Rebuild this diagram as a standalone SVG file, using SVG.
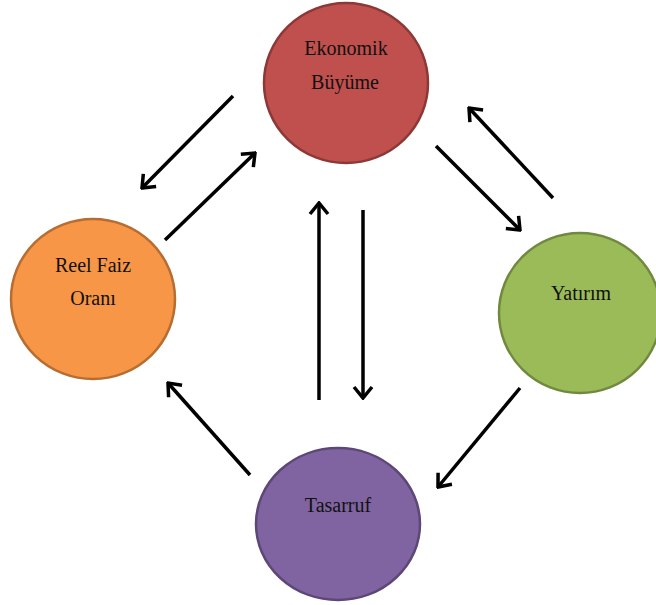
<svg xmlns="http://www.w3.org/2000/svg" width="656" height="605" viewBox="0 0 656 605">
  <style>
    .lbl { font-family: "Liberation Serif", "Times New Roman", serif; font-size: 20px; fill: #111; text-anchor: middle; }
    .arr { stroke: #000; stroke-width: 3.5; fill: none; marker-end: url(#head); }
  </style>
  <defs>
    <marker id="head" markerUnits="userSpaceOnUse" viewBox="-14 -12 16 24" refX="0" refY="0" markerWidth="16" markerHeight="24" orient="auto">
      <path d="M-11,-9 L0,0 L-11,9" fill="none" stroke="#000" stroke-width="3.5" stroke-linejoin="miter" stroke-linecap="butt"/>
    </marker>
  </defs>
  <rect width="656" height="605" fill="#fff"/>
  <g id="connectors">
    <line class="arr" x1="233" y1="96" x2="142" y2="188"/>
    <line class="arr" x1="165" y1="240" x2="255" y2="153"/>
    <line class="arr" x1="436" y1="146" x2="520" y2="230"/>
    <line class="arr" x1="553" y1="198" x2="469" y2="108"/>
    <line class="arr" x1="319" y1="400" x2="319" y2="203"/>
    <line class="arr" x1="363" y1="210" x2="363" y2="398"/>
    <line class="arr" x1="520" y1="388" x2="438" y2="487"/>
    <line class="arr" x1="250" y1="475" x2="168" y2="383"/>
  </g>
  <g id="ekonomik">
    <ellipse cx="346" cy="83" rx="82" ry="80" fill="#C0504D" stroke="#8C3836" stroke-width="2.5"/>
    <text class="lbl" x="346" y="55">Ekonomik</text>
    <text class="lbl" x="345" y="89">Büyüme</text>
  </g>
  <g id="reelfaiz">
    <ellipse cx="93" cy="299" rx="82" ry="80" fill="#F79646" stroke="#B66D31" stroke-width="2.5"/>
    <text class="lbl" x="93" y="272">Reel Faiz</text>
    <text class="lbl" x="93" y="305">Oranı</text>
  </g>
  <g id="yatirim">
    <ellipse cx="580" cy="313" rx="81" ry="80" fill="#9BBB59" stroke="#71893F" stroke-width="2.5"/>
    <text class="lbl" x="581" y="300">Yatırım</text>
  </g>
  <g id="tasarruf">
    <ellipse cx="338" cy="524" rx="82" ry="76" fill="#8064A2" stroke="#5C4776" stroke-width="2.5"/>
    <text class="lbl" x="338" y="512">Tasarruf</text>
  </g>
</svg>
